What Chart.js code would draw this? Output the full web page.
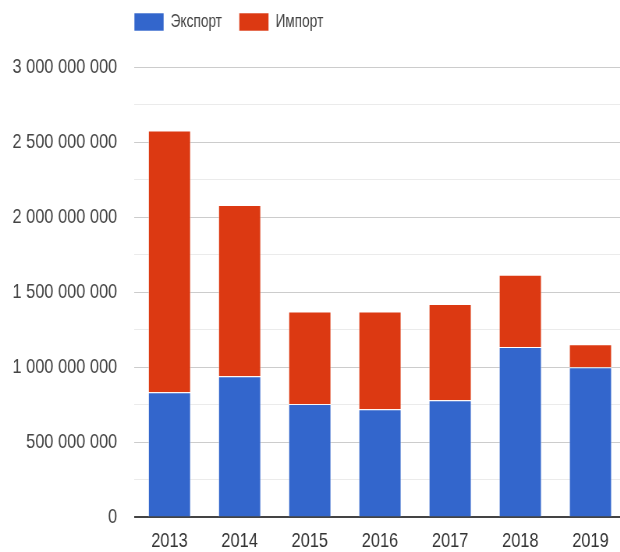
<!DOCTYPE html>
<html>
<head>
<meta charset="utf-8">
<script src="https://cdn.jsdelivr.net/npm/chart.js@4"></script>
<style>
  html, body { margin: 0; padding: 0; background: #fff; overflow: hidden; }
  /* the reference is a horizontally squeezed screenshot, so draw wide and squeeze */
  #wrap { position: absolute; left: 0; top: 0; width: 802px; height: 552px; transform: scaleX(0.78); transform-origin: 0 0; }
</style>
</head>
<body>
<div id="wrap"><canvas id="chart" width="802" height="552"></canvas></div>
<script>
const years = ['2013', '2014', '2015', '2016', '2017', '2018', '2019']
const exportValues = [833e6, 940e6, 755e6, 720e6, 780e6, 1135e6, 1000e6]
const importValues = [1744e6, 1140e6, 616e6, 651e6, 642e6, 481e6, 153e6]
const seriesNames = ['Экспорт', 'Импорт']

const FONT = "'Liberation Sans', Arial, sans-serif"
const MAJOR = 500e6

function formatNumber(v) {
  return String(Math.round(v)).replace(/\B(?=(\d{3})+(?!\d))/g, ' ')
}

// put the legend where the reference has it
const legendShift = {
  id: 'legendShift',
  afterLayout(chart) {
    chart.legend.left = 150
    chart.legend.top = -9
  }
}

new Chart(document.getElementById('chart'), {
  type: 'bar',
  data: {
    labels: years,
    datasets: [
      {
        label: seriesNames[0],
        data: exportValues,
        backgroundColor: '#3366cc',
        borderColor: 'rgba(255,255,255,0.55)',
        borderWidth: 1,
      },
      {
        label: seriesNames[1],
        data: importValues,
        backgroundColor: '#dc3912',
        borderColor: 'rgba(255,255,255,0.55)',
        borderWidth: 1,
      },
    ],
  },
  options: {
    responsive: false,
    animation: false,
    layout: { padding: { left: -6, right: 0, top: 17, bottom: -12 } },
    datasets: { bar: { barPercentage: 0.61, categoryPercentage: 1 } },
    plugins: {
      legend: {
        position: 'top',
        align: 'start',
        labels: {
          boxWidth: 38,
          boxHeight: 18,
          padding: 22,
          color: '#444',
          font: { family: FONT, size: 17.5 },
        },
      },
      tooltip: { enabled: false },
    },
    scales: {
      x: {
        stacked: true,
        grid: { display: false },
        border: { display: false },
        ticks: { color: '#333', padding: 3, font: { family: FONT, size: 21 } },
      },
      y: {
        stacked: true,
        min: 0,
        max: 3e9,
        border: { display: false },
        grid: {
          drawTicks: false,
          color: (ctx) => ctx.tick.value === 0 ? '#444' : (ctx.tick.value % MAJOR === 0 ? '#cccccc' : '#ebebeb'),
          lineWidth: (ctx) => ctx.tick.value === 0 ? 2 : 1,
        },
        ticks: {
          stepSize: 250e6,
          padding: 22,
          color: '#444',
          font: { family: FONT, size: 21 },
          callback: (v) => v % MAJOR === 0 ? formatNumber(v) : '',
        },
      },
    },
  },
  plugins: [legendShift],
})
</script>
</body>
</html>
